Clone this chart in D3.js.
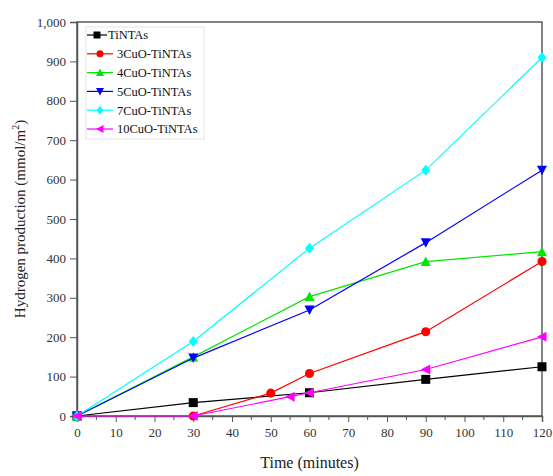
<!DOCTYPE html>
<html>
<head>
<meta charset="utf-8">
<script src="https://cdn.jsdelivr.net/npm/d3@7"></script>
<style>
  body { margin: 0; background: #fff; }
  svg text { font-family: "Liberation Serif", "DejaVu Serif", "Times New Roman", serif; }
</style>
</head>
<body>
<svg id="chart" width="553" height="476"></svg>
<script>
const svg = d3.select('#chart');
const width = +svg.attr('width');
const height = +svg.attr('height');
const margin = { top: 22, right: 11, bottom: 60, left: 77 };
const innerWidth = width - margin.left - margin.right;
const innerHeight = height - margin.top - margin.bottom;
const serif = '"Liberation Serif", "DejaVu Serif", "Times New Roman", serif';

// data (time in minutes, hydrogen in mmol/m2)
const seriesNames = ['TiNTAs', '3CuO-TiNTAs', '4CuO-TiNTAs', '5CuO-TiNTAs', '7CuO-TiNTAs', '10CuO-TiNTAs'];
const tiTime = [0, 30, 60, 90, 120];
const tiVals = [0, 34, 59, 93, 125];
const cu3Time = [30, 50, 60, 90, 120];
const cu3Vals = [0, 58, 108, 214, 392];
const cu4Time = [0, 30, 60, 90, 120];
const cu4Vals = [0, 150, 303, 392, 417];
const cu5Time = [0, 30, 60, 90, 120];
const cu5Vals = [0, 147, 269, 440, 624];
const cu7Time = [0, 30, 60, 90, 120];
const cu7Vals = [0, 189, 426, 624, 910];
const cu10Time = [0, 30, 55, 60, 90, 120];
const cu10Vals = [0, 0, 49, 59, 118, 201];
const xTicks = [0, 10, 20, 30, 40, 50, 60, 70, 80, 90, 100, 110, 120];
const yTicks = [0, 100, 200, 300, 400, 500, 600, 700, 800, 900, 1000];

const colors = ['#000000', '#ff0000', '#00e600', '#0000ff', '#00ffff', '#ff00ff'];
const symbols = ['square', 'circle', 'up', 'down', 'diamond', 'left'];

const series = [
    [tiTime, tiVals], [cu3Time, cu3Vals], [cu4Time, cu4Vals],
    [cu5Time, cu5Vals], [cu7Time, cu7Vals], [cu10Time, cu10Vals]
].map((s, i) => ({
    name: seriesNames[i],
    color: colors[i],
    symbol: symbols[i],
    points: s[0].map((t, j) => ({ t: t, v: s[1][j] }))
}));

const g = svg.append('g')
    .attr('transform', `translate(${margin.left},${margin.top})`);

const x = d3.scaleLinear().domain([0, 120]).range([0, innerWidth]);
const y = d3.scaleLinear().domain([0, 1000]).range([innerHeight, 0]);

// frame (top and right)
g.append('rect')
    .attr('x', 0).attr('y', 0)
    .attr('width', innerWidth).attr('height', innerHeight)
    .attr('fill', 'none')
    .attr('stroke', '#333')
    .attr('stroke-width', 1.2);

// minor x ticks, no labels
g.append('g')
    .selectAll('line')
    .data(d3.range(5, 120, 10)).enter()
    .append('line')
    .attr('x1', d => x(d)).attr('x2', d => x(d))
    .attr('y1', innerHeight).attr('y2', innerHeight + 4)
    .attr('stroke', '#555');

const xAxis = g.append('g')
    .attr('transform', `translate(0,${innerHeight})`)
    .attr('font-family', serif)
    .call(d3.axisBottom(x).tickValues(xTicks).tickSize(6).tickPadding(6));
xAxis.select('.domain').attr('stroke', '#555').attr('stroke-width', 1.5);
xAxis.selectAll('line').attr('stroke', '#555');
xAxis.selectAll('text')
    .attr('fill', '#333')
    .style('font-size', '13px');

const yAxis = g.append('g')
    .attr('font-family', serif)
    .call(d3.axisLeft(y).tickValues(yTicks).tickSize(7).tickPadding(4).tickFormat(d3.format(',')));
yAxis.select('.domain').attr('stroke', '#555').attr('stroke-width', 1.5);
yAxis.selectAll('line').attr('stroke', '#555');
yAxis.selectAll('text')
    .attr('fill', '#333')
    .style('font-size', '13px');

// axis titles
svg.append('text')
    .attr('x', margin.left + innerWidth / 2)
    .attr('y', 468)
    .attr('text-anchor', 'middle')
    .style('font-size', '16px')
    .attr('fill', '#222')
    .text('Time (minutes)');

const yTitle = svg.append('text')
    .attr('transform', `translate(25,${margin.top + innerHeight / 2}) rotate(-90)`)
    .attr('text-anchor', 'middle')
    .style('font-size', '15px')
    .attr('fill', '#222');
yTitle.append('tspan').text('Hydrogen production (mmol/m');
yTitle.append('tspan').attr('dy', -6).style('font-size', '10px').text('2');
yTitle.append('tspan').attr('dy', 6).text(')');

// marker shapes
function markerPath(sym, s) {
    const h = s / 2;
    switch (sym) {
        case 'square': return `M${-h},${-h}H${h}V${h}H${-h}Z`;
        case 'circle': return d3.symbol(d3.symbolCircle, s * s * 0.8)();
        case 'up': return `M0,${-h - 0.5}L${h + 0.5},${h}L${-h - 0.5},${h}Z`;
        case 'down': return `M0,${h + 0.5}L${h + 0.5},${-h}L${-h - 0.5},${-h}Z`;
        case 'diamond': return `M0,${-h - 1}L${h},0L0,${h + 1}L${-h},0Z`;
        case 'left': return `M${-h - 0.5},0L${h},${-h - 0.5}L${h},${h + 0.5}Z`;
    }
}

const line = d3.line().x(d => x(d.t)).y(d => y(d.v));

const layers = g.selectAll('.layer')
    .data(series).enter()
    .append('g')
    .attr('class', 'layer');
layers.append('path')
    .attr('d', d => line(d.points))
    .attr('fill', 'none')
    .attr('stroke', d => d.color)
    .attr('stroke-width', 1.2);
layers.each(function(s) {
    d3.select(this).selectAll('.pt')
        .data(s.points).enter()
        .append('path')
        .attr('class', 'pt')
        .attr('transform', d => `translate(${x(d.t)},${y(d.v)})`)
        .attr('d', markerPath(s.symbol, 9))
        .attr('fill', s.color);
});

// legend
const legend = svg.append('g')
    .attr('transform', 'translate(86,27)');
legend.append('rect')
    .attr('x', 0).attr('y', 0)
    .attr('width', 118).attr('height', 112)
    .attr('fill', '#fff')
    .attr('stroke', '#e4e4e4');
const item = legend.selectAll('.item')
    .data(series).enter()
    .append('g')
    .attr('class', 'item')
    .attr('transform', (d, i) => `translate(0,${8 + i * 18.8})`);
item.append('line')
    .attr('x1', 1).attr('x2', d => d.name === 'TiNTAs' ? 21 : 27)
    .attr('stroke', d => d.color)
    .attr('stroke-width', 1.2);
item.append('path')
    .attr('transform', d => `translate(${d.name === 'TiNTAs' ? 11 : 14},0)`)
    .attr('d', d => markerPath(d.symbol, 7))
    .attr('fill', d => d.color);
item.append('text')
    .attr('x', d => d.name === 'TiNTAs' ? 22 : 31)
    .attr('dy', '0.35em')
    .style('font-size', '12.5px')
    .attr('fill', '#111')
    .text(d => d.name);
</script>
</body>
</html>
